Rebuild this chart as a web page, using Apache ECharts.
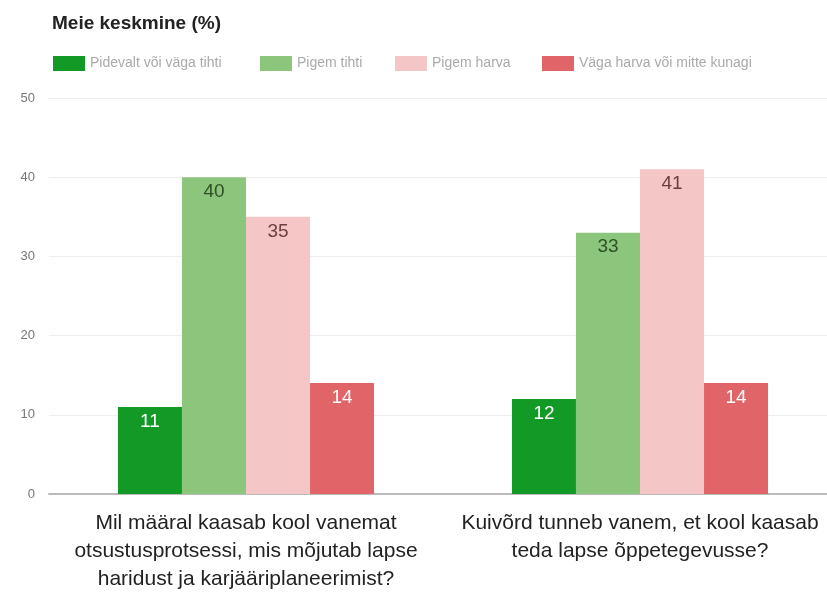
<!DOCTYPE html>
<html>
<head>
<meta charset="utf-8">
<script src="https://cdn.jsdelivr.net/npm/echarts@6/dist/echarts.min.js"></script>
<style>
  html, body { margin: 0; padding: 0; background: #fff; }
  #main { width: 827px; height: 599px; }
</style>
</head>
<body>
<div id="main"></div>
<script>
const categories = [
  'Mil määral kaasab kool vanemat\notsustusprotsessi, mis mõjutab lapse\nharidust ja karjääriplaneerimist?',
  'Kuivõrd tunneb vanem, et kool kaasab\nteda lapse õppetegevusse?'
]
const seriesNames = ['Pidevalt või väga tihti', 'Pigem tihti', 'Pigem harva', 'Väga harva või mitte kunagi']
const pidevalt = [11, 12]
const pigemTihti = [40, 33]
const pigemHarva = [35, 41]
const vagaHarva = [14, 14]
const yTicks = [0, 10, 20, 30, 40, 50]

const colors = ['#139a26', '#8cc57c', '#f4c6c5', '#e06468']
const labelColors = ['#ffffff', '#2f4f26', '#6b4040', '#ffffff']
const values = [pidevalt, pigemTihti, pigemHarva, vagaHarva]
const legendLeft = [48, 255, 390, 537]

const FONT = '"Liberation Sans", Arial, sans-serif'

var myChart = echarts.init(document.getElementById('main'))
let option = {
  animation: false,
  title: {
    text: 'Meie keskmine (%)',
    left: 47,
    top: 9,
    textStyle: { fontSize: 19, fontWeight: 'bold', color: '#222', fontFamily: FONT },
  },
  // one legend per item so each sits where it does in the picture
  legend: seriesNames.map((name, i) => ({
    left: legendLeft[i],
    top: 51,
    itemWidth: 32,
    itemHeight: 15,
    icon: 'rect',
    textStyle: { fontSize: 14, color: '#aaa', fontFamily: FONT },
    data: [name],
  })),
  grid: {
    left: 49,
    width: 788,
    top: 98,
    bottom: 105,
    outerBoundsMode: 'none',
  },
  xAxis: {
    type: 'category',
    data: categories,
    axisTick: { show: false },
    axisLine: { lineStyle: { color: '#bbb', width: 2 } },
    axisLabel: {
      interval: 0,
      hideOverlap: false,
      fontSize: 21,
      color: '#222',
      lineHeight: 28,
      margin: 15,
      fontFamily: FONT,
    },
  },
  yAxis: {
    type: 'value',
    min: 0,
    max: 50,
    interval: 10,
    axisLabel: {
      fontSize: 13,
      color: '#777',
      margin: 14,
      fontFamily: FONT,
      formatter: (v) => (yTicks.includes(v) ? String(v) : ''),
    },
    splitLine: { lineStyle: { color: '#eeeeee' } },
  },
  series: seriesNames.map((name, i) => ({
    name: name,
    type: 'bar',
    data: values[i],
    barGap: '0%',
    barCategoryGap: '35%',
    itemStyle: { color: colors[i] },
    label: {
      show: true,
      position: 'insideTop',
      distance: 5,
      fontSize: 19,
      color: labelColors[i],
      fontFamily: FONT,
    },
  })),
}
myChart.setOption(option)
</script>
</body>
</html>
